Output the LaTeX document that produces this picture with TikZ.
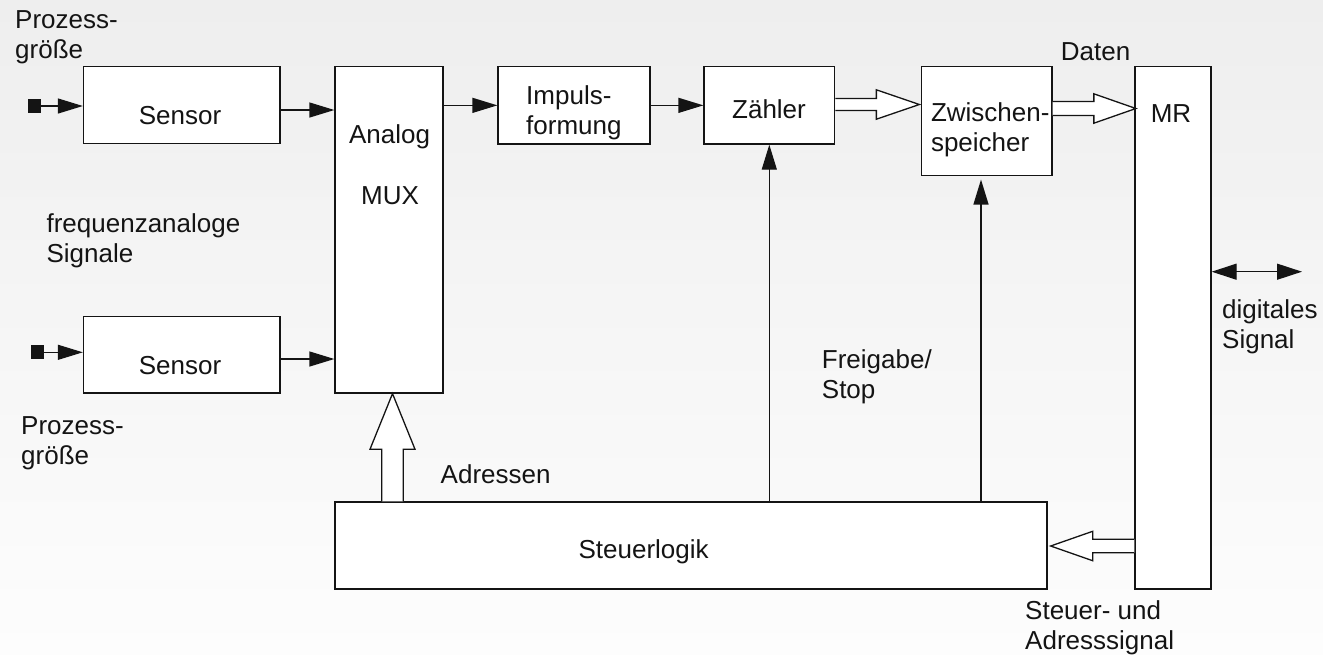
\documentclass[tikz,border=0pt]{standalone}
\usepackage{fontspec}
\setmainfont{Liberation Sans}
\usetikzlibrary{arrows.meta,calc}
\definecolor{bgtop}{RGB}{238,238,238}
\definecolor{bgbot}{RGB}{253,253,253}
\definecolor{ink}{RGB}{20,20,20}
\tikzset{
  box/.style={draw=ink, fill=white, line width=1.3pt, inner sep=0pt},
  lbl/.style={inner sep=0pt, text=ink, align=left},
  arr/.style={draw=ink, line width=1.3pt, -{Triangle[length=25pt,width=15pt]}},
  darr/.style={draw=ink, line width=1.3pt, {Triangle[length=25pt,width=16pt]}-{Triangle[length=25pt,width=16pt]}},
  hollow/.style={draw=ink, fill=white, line width=1.3pt, line join=miter},
  sq/.style={fill=ink, inner sep=0pt, minimum width=13pt, minimum height=14pt},
}
\begin{document}
\begin{tikzpicture}[x=1pt, y=-1pt, font=\fontsize{26}{30}\selectfont]
\shade[top color=bgtop, bottom color=bgbot] (0,0) rectangle (1323,654);
\useasboundingbox (0,0) rectangle (1323,654);

% boxes
\node[box, minimum width=196.5pt, minimum height=77pt]   (sens1)   at (181.75,105.25) {};
\node[box, minimum width=196.5pt, minimum height=76.3pt] (sens2)   at (181.75,354.85) {};
\node[box, minimum width=108pt,   minimum height=326.3pt] (mux)    at (389,229.85) {};
\node[box, minimum width=152pt,   minimum height=77.3pt] (impuls)  at (574,105.35) {};
\node[box, minimum width=130.6pt, minimum height=77.3pt] (zaehler) at (769.3,105.35) {};
\node[box, minimum width=130.5pt, minimum height=108.7pt] (zw)     at (986.75,121.05) {};
\node[box, minimum width=76pt,    minimum height=522.3pt] (mr)     at (1173,327.85) {};
\node[box, minimum width=712pt,   minimum height=87pt]   (steuer)  at (691,545.5) {};

% box texts
\node[lbl, anchor=base] (tsens1) at (180,124) {Sensor};
\node[lbl, anchor=base] (tsens2) at (180,374) {Sensor};
\node[lbl, anchor=base] (tanalog) at (389.5,143.5) {Analog};
\node[lbl, anchor=base] (tmux) at (390,204) {MUX};
\node[lbl, anchor=north west] (timpuls) at (526,85.5) {Impuls-\\formung};
\node[lbl, anchor=base] (tzaehler) at (769,118) {Zähler};
\node[lbl, anchor=north west] (tzw) at (930.8,102.5) {Zwischen-\\speicher};
\node[lbl, anchor=base] (tmr) at (1171,122.7) {MR};
\node[lbl, anchor=base] (tsteuer) at (643.6,558) {Steuerlogik};

% free labels
\node[lbl, anchor=north west] (pg1) at (15,10.4) {Prozess-\\größe};
\node[lbl, anchor=north west] (daten) at (1060.7,42.5) {Daten};
\node[lbl, anchor=north west] (freq) at (46.4,213) {frequenzanaloge\\Signale};
\node[lbl, anchor=north west] (pg2) at (21,416.7) {Prozess-\\größe};
\node[lbl, anchor=north west] (adr) at (440.5,464.6) {Adressen};
\node[lbl, anchor=north west] (frei) at (821.7,349.5) {Freigabe/\\Stop};
\node[lbl, anchor=north west] (digi) at (1222,299) {digitales\\Signal};
\node[lbl, anchor=north west] (stad) at (1025,600) {Steuer- und\\Adresssignal};

% inputs
\node[sq] (in1) at (34,106) {};
\node[sq] (in2) at (37.5,352.3) {};
\draw[arr] (in1.east) -- (sens1.west |- in1);
\draw[arr] (in2.east) -- (sens2.west |- in2);

% sensor outputs
\coordinate (s1o) at ([yshift=-4.75pt]sens1.east);
\coordinate (s2o) at ([yshift=-4.15pt]sens2.east);
\draw[arr] (s1o) -- (s1o -| mux.west);
\draw[arr] (s2o) -- (s2o -| mux.west);

% chain
\draw[arr] (mux.east |- impuls.west) -- (impuls.west);
\draw[arr] (impuls.east) -- (zaehler.west);

% vertical control arrows
\coordinate (zwx) at (981,0);
\draw[arr] (steuer.north -| zaehler.south) -- (zaehler.south);
\draw[arr, shorten >=3.5pt] (steuer.north -| zwx) -- (zw.south -| zwx);

% digital signal
\coordinate (dsr) at (1302,271.7);
\draw[darr] (mr.east |- dsr) -- (dsr);

% hollow arrows
\coordinate (a1) at (zaehler.east |- 0,104.5);
\coordinate (t1) at ($(zw.west |- a1)+(-1.5,0)$);
\draw[hollow] ($(a1)+(0,-6)$) -- ($(t1)+(-43,-6)$) -- ($(t1)+(-43,-14.7)$) -- (t1)
  -- ($(t1)+(-43,14.7)$) -- ($(t1)+(-43,6)$) -- ($(a1)+(0,6)$);

\coordinate (a2) at (zw.east |- 0,108.5);
\coordinate (t2) at ($(mr.west |- a2)+(1.5,0)$);
\draw[hollow] ($(a2)+(0,-7)$) -- ($(t2)+(-42,-7)$) -- ($(t2)+(-42,-14.7)$) -- (t2)
  -- ($(t2)+(-42,14.7)$) -- ($(t2)+(-42,7)$) -- ($(a2)+(0,7)$);

\coordinate (a3) at (mr.west |- 0,546);
\coordinate (t3) at ($(steuer.east |- a3)+(3,0)$);
\draw[hollow] ($(a3)+(0,-6.8)$) -- ($(t3)+(42,-6.8)$) -- ($(t3)+(42,-14.7)$) -- (t3)
  -- ($(t3)+(42,14.7)$) -- ($(t3)+(42,6.8)$) -- ($(a3)+(0,6.8)$);

\coordinate (hx) at (392.5,0);
\coordinate (a4) at (steuer.north -| hx);
\coordinate (t4) at (mux.south -| hx);
\draw[hollow] ($(a4)+(-10.8,0)$) -- ($(t4)+(-10.8,55.6)$) -- ($(t4)+(-22.5,55.6)$) -- (t4)
  -- ($(t4)+(22.5,55.6)$) -- ($(t4)+(10.8,55.6)$) -- ($(a4)+(10.8,0)$);
\end{tikzpicture}
\end{document}
